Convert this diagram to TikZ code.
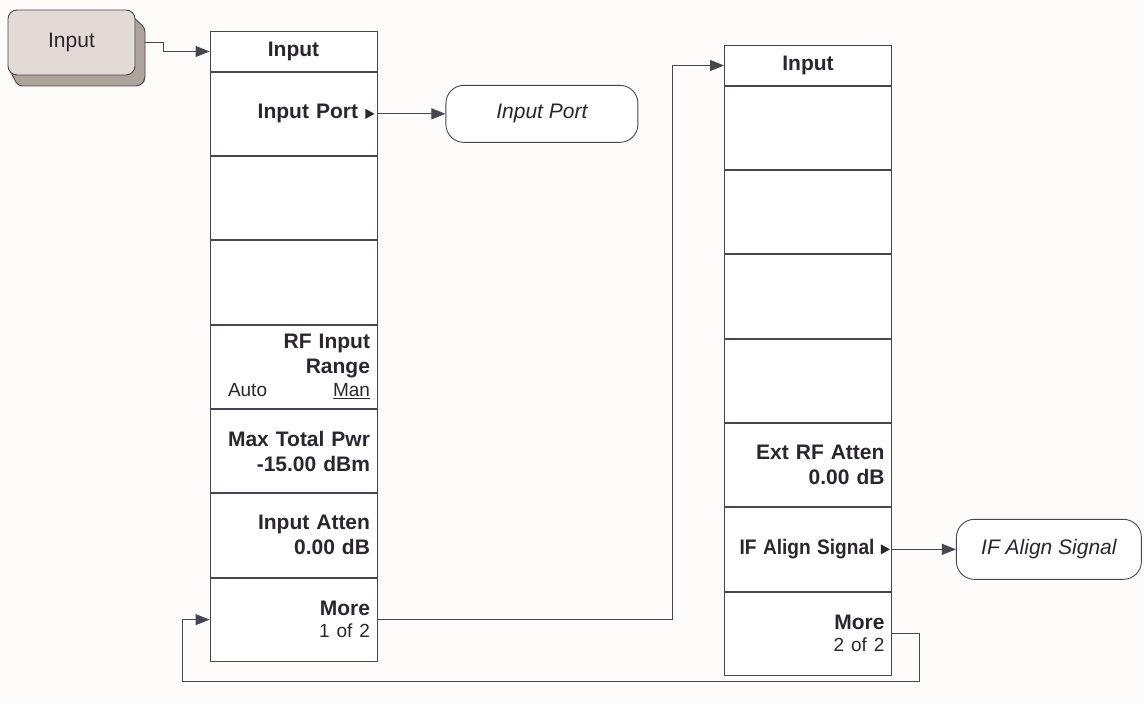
\documentclass[tikz,border=0pt]{standalone}
\usepackage{graphicx}
\usepackage{fontspec}
\setmainfont{Liberation Sans}
\usetikzlibrary{arrows.meta,calc,positioning}
\definecolor{ink}{HTML}{2B2530}
\definecolor{line}{HTML}{4A4450}
\definecolor{paper}{HTML}{FDFCFA}
\definecolor{keyface}{HTML}{E2DBD5}
\definecolor{keyshade}{HTML}{ADA39A}
\tikzset{
  basebox/.style={draw=line,line width=0.9pt,fill=white,text=ink,inner sep=0pt},
  titlebox/.style={basebox,minimum width=167pt,minimum height=39.5pt,font=\fontsize{21}{25}\selectfont\bfseries},
  cellbox/.style={basebox,minimum width=167pt,minimum height=83.4pt,text width=153pt,align=right,font=\fontsize{21}{25}\selectfont\bfseries},
  endbox/.style={basebox,rounded corners=18pt,font=\fontsize{21}{25}\selectfont\itshape},
  keybox/.style={basebox,fill=keyface,rounded corners=9pt,minimum width=127pt,minimum height=65pt,font=\fontsize{21}{25}\selectfont},
  arrow/.style={-{Triangle[length=14pt,width=11pt]},line width=0.9pt,draw=line},
  tick/.style={fill=ink}
}
\newcommand{\sublabel}[1]{{\fontsize{19}{23}\selectfont\mdseries #1}}

\begin{document}
\begin{tikzpicture}[x=1pt,y=-1pt,node distance=0pt]
  \useasboundingbox (0,0) rectangle (1144,703);
  \fill[paper] (0,0) rectangle (1144,703);

  % hard key
  \filldraw[draw=line,fill=keyshade,line width=0.9pt,rounded corners=4pt]
    (126,10.5) -- (145,28) -- (145,80) -- (140,86) -- (18,86) -- (8.5,68) -- cycle;
  \node[keybox] (key) at (71.5,42.5) {Input};

  % first menu
  \node[titlebox] (ltitle) at (293.5,51.5) {Input};
  \node[cellbox,below=of ltitle] (l1) {Input Port\kern12pt};
  \node[cellbox,below=of l1] (l2) {};
  \node[cellbox,below=of l2] (l3) {};
  \node[cellbox,below=of l3] (l4) {RF Input\\Range\\[-2pt]
    \makebox[153pt]{\hspace*{11pt}\sublabel{Auto}\hfill\sublabel{\underline{Man}}}};
  \node[cellbox,below=of l4] (l5) {Max Total Pwr\\-15.00 dBm};
  \node[cellbox,below=of l5] (l6) {Input Atten\\0.00 dB};
  \node[cellbox,below=of l6] (l7) {More\\[-3pt]\sublabel{1 of 2}};
  \fill[tick] ([xshift=-12pt]l1.east) -- ++(0,-5) -- ++(9,5) -- ++(-9,5) -- cycle;

  % second menu
  \node[titlebox] (rtitle) at (808,65.5) {Input};
  \node[cellbox,below=of rtitle] (r1) {};
  \node[cellbox,below=of r1] (r2) {};
  \node[cellbox,below=of r2] (r3) {};
  \node[cellbox,below=of r3] (r4) {};
  \node[cellbox,below=of r4] (r5) {Ext RF Atten\\0.00 dB};
  \node[cellbox,below=of r5] (r6) {\scalebox{0.91}[1]{IF Align Signal}\kern10pt};
  \node[cellbox,below=of r6] (r7) {More\\[-3pt]\sublabel{2 of 2}};
  \fill[tick] ([xshift=-11pt]r6.east) -- ++(0,-5) -- ++(9,5) -- ++(-9,5) -- cycle;

  % sub menus
  \node[endbox,minimum width=192pt,minimum height=57pt,right=68pt of l1] (port) {Input Port};
  \node[endbox,minimum width=185pt,minimum height=60pt,right=64pt of r6] (align) {IF Align Signal};

  % connectors
  \coordinate (loopbl) at (182,681);
  \draw[arrow] ([xshift=10pt]key.east) -- ++(18,0) |- (ltitle.west);
  \draw[arrow] (l1.east) -- (port.west);
  \draw[arrow] (r6.east) -- (align.west);
  \draw[arrow] (l7.east) -- ++(295,0) |- (rtitle.west);
  \draw[arrow] (r7.east) -- ++(27,0) |- (loopbl) |- (l7.west);
\end{tikzpicture}
\end{document}
